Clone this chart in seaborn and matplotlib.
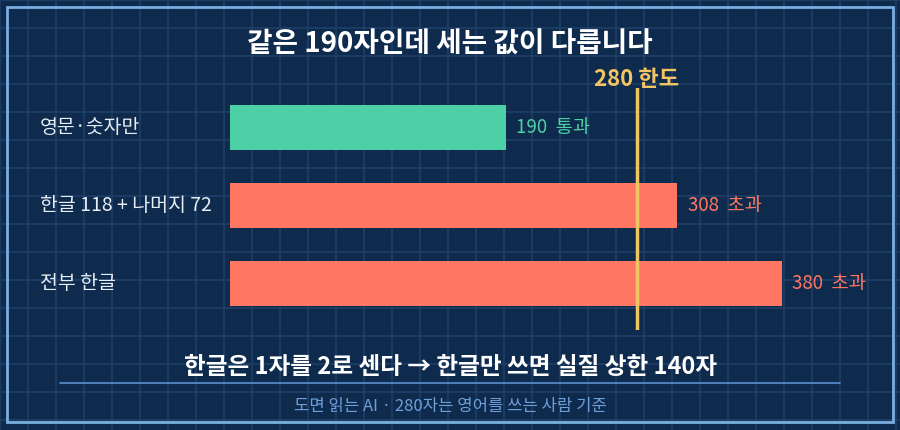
import seaborn as sns
import matplotlib.pyplot as plt
import pandas as pd

sns.set_style("dark")
plt.rcParams['font.family'] = ['Noto Sans CJK KR', 'DejaVu Sans']

categories = ["영문·숫자만", "한글 118 + 나머지 72", "전부 한글"]
counts = [190, 308, 380]
verdicts = ["통과", "초과", "초과"]
limit = 280

BG = "#0e2a4d"
GRID = "#1f3f68"
GREEN = "#4dd0a5"
RED = "#ff7762"
YELLOW = "#f2c462"
FRAME = "#7aaee0"

df = pd.DataFrame({"label": categories, "count": counts, "verdict": verdicts})
palette = {"통과": GREEN, "초과": RED}

fig = plt.figure(figsize=(9, 4.3), dpi=100)
fig.patch.set_facecolor(BG)

# background grid + frame
bg = fig.add_axes([0, 0, 1, 1])
bg.set_xlim(0, 900)
bg.set_ylim(430, 0)
bg.set_facecolor(BG)
bg.axis("off")
for x in range(0, 901, 28):
    bg.axvline(x, color=GRID, lw=1.2, zorder=0)
for y in range(0, 431, 28):
    bg.axhline(y, color=GRID, lw=1.2, zorder=0)
bg.add_patch(plt.Rectangle((7, 7), 886, 415, fill=False, ec=FRAME, lw=2, zorder=1))
bg.plot([60, 840], [383, 383], color="#5b90d0", lw=1.2)

# bar chart
ax = fig.add_axes([230 / 900, 100 / 430, 610 / 900, 242 / 430])
ax.patch.set_alpha(0)
sns.barplot(data=df, x="count", y="label", hue="verdict", palette=palette,
            width=0.577, legend=False, ax=ax, saturation=1, dodge=False,
            linewidth=0, edgecolor="none")
ax.set_xlim(0, 420)
ax.set_ylim(2.596, -0.506)
ax.axvline(limit, color=YELLOW, lw=2.5, zorder=5)
for s in ax.spines.values():
    s.set_visible(False)
ax.set_xticks([])
ax.set_xlabel("")
ax.set_ylabel("")
ax.tick_params(axis="y", length=0, pad=0)
ax.set_yticklabels([])
ax.grid(False)

for i, (lab, c, v) in enumerate(zip(categories, counts, verdicts)):
    col = palette[v]
    ax.text(c + 7, i, f"{c}  {v}", color=col, fontsize=13.5, va="center", ha="left")
    fig.text(40 / 900, 1 - (127.5 + 78 * i) / 430, lab, color="#e8eef6",
             fontsize=14, va="center", ha="left")

ax.text(limit, -0.53, f"{limit} 한도", color=YELLOW, fontsize=16, fontweight="bold",
        ha="center", va="baseline", transform=ax.transData)

fig.text(0.5, 1 - 45 / 430, "같은 190자인데 세는 값이 다릅니다", color="white",
         fontsize=20, fontweight="bold", ha="center", va="center")
fig.text(0.5, 1 - 367 / 430, "한글은 1자를 2로 센다 → 한글만 쓰면 실질 상한 140자",
         color="white", fontsize=17, fontweight="bold", ha="center", va="center")
fig.text(0.5, 1 - 407 / 430, "도면 읽는 AI · 280자는 영어를 쓰는 사람 기준",
         color="#6f9fd8", fontsize=12, ha="center", va="center")

fig.savefig("out.png", dpi=100, facecolor=BG)
